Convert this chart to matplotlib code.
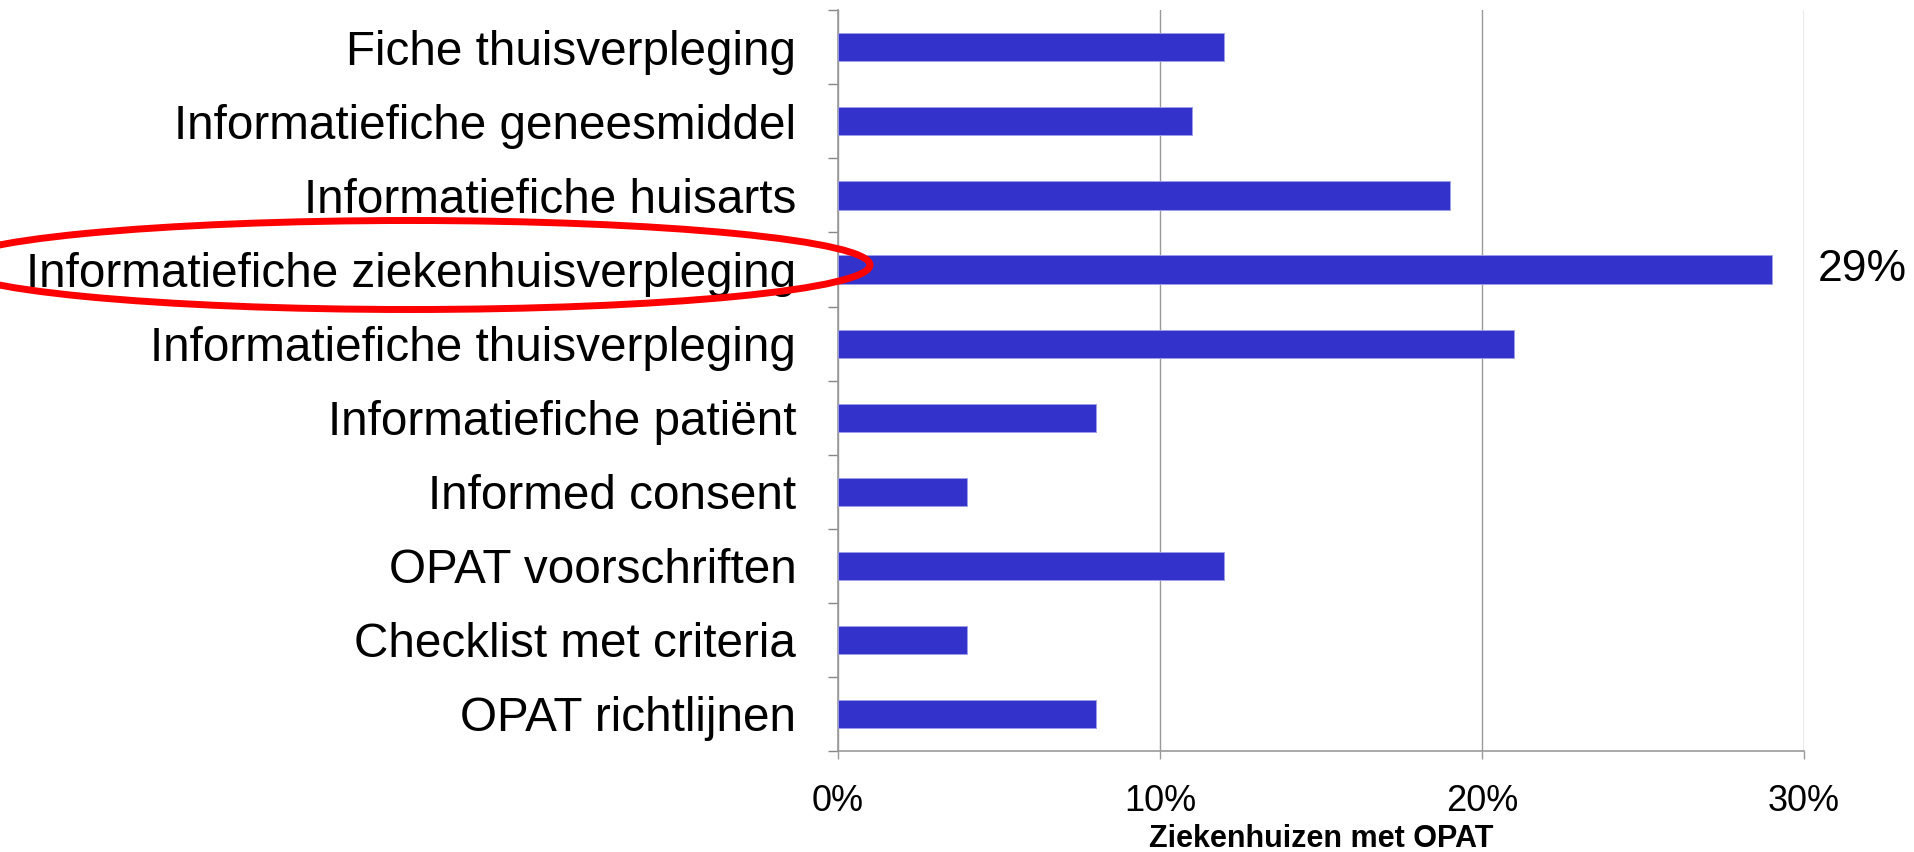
import matplotlib.pyplot as plt
import numpy as np
from matplotlib.patches import Ellipse
from matplotlib.ticker import FuncFormatter

categories = [
    "Fiche thuisverpleging",
    "Informatiefiche geneesmiddel",
    "Informatiefiche huisarts",
    "Informatiefiche ziekenhuisverpleging",
    "Informatiefiche thuisverpleging",
    "Informatiefiche patiënt",
    "Informed consent",
    "OPAT voorschriften",
    "Checklist met criteria",
    "OPAT richtlijnen",
]
values = [0.12, 0.11, 0.19, 0.29, 0.21, 0.08, 0.04, 0.12, 0.04, 0.08]
highlight = "Informatiefiche ziekenhuisverpleging"
x_ticks = [0.0, 0.10, 0.20, 0.30]
x_label = "Ziekenhuizen met OPAT"

plt.rcParams.update({"font.family": ["Liberation Sans", "DejaVu Sans"]})

fig = plt.figure(figsize=(19.15, 8.52), dpi=100)
ax = fig.add_axes([0.4376, 0.1185, 0.5044, 0.8695])

y = np.arange(len(categories))
ax.barh(y, values, height=0.38, color="#3333CC", edgecolor="#a0a0e8", linewidth=0.6, zorder=3)
ax.set_ylim(len(categories) - 0.5, -0.5)
ax.set_xlim(0, 0.30)

ax.set_yticks(y)
ax.set_yticklabels(categories, fontsize=34.3)
ax.set_yticks(np.arange(len(categories) + 1) - 0.5, minor=True)
ax.tick_params(axis="y", which="major", length=0, pad=30)
ax.tick_params(axis="y", which="minor", length=7, color="#888888", width=1)

ax.set_xticks(x_ticks)
ax.xaxis.set_major_formatter(FuncFormatter(lambda v, _: f"{v * 100:.0f}%"))
ax.tick_params(axis="x", labelsize=26, length=6, color="#999999", width=1, pad=18)
ax.set_xlabel(x_label, fontsize=22, fontweight="bold")
ax.xaxis.set_label_coords(0.5, -0.098)

ax.grid(axis="x", color="#999999", linewidth=1, zorder=0)
for s in ("top", "right"):
    ax.spines[s].set_visible(False)
for s in ("left", "bottom"):
    ax.spines[s].set_color("#999999")
    ax.spines[s].set_linewidth(1.2)

i = categories.index(highlight)
ax.annotate(f"{values[i] * 100:.0f}%", xy=(values[i], i), xytext=(33, 0),
            textcoords="offset points", va="center", ha="left", fontsize=32)

# red ellipse around the highlighted label (figure pixel coords)
ell = Ellipse((410 / 1915, 1 - 265 / 852), 920 / 1915, 89 / 852,
              transform=fig.transFigure, fill=False, edgecolor="#FF0000",
              linewidth=5, clip_on=False, zorder=10)
fig.add_artist(ell)

fig.savefig("out.png", dpi=100)
